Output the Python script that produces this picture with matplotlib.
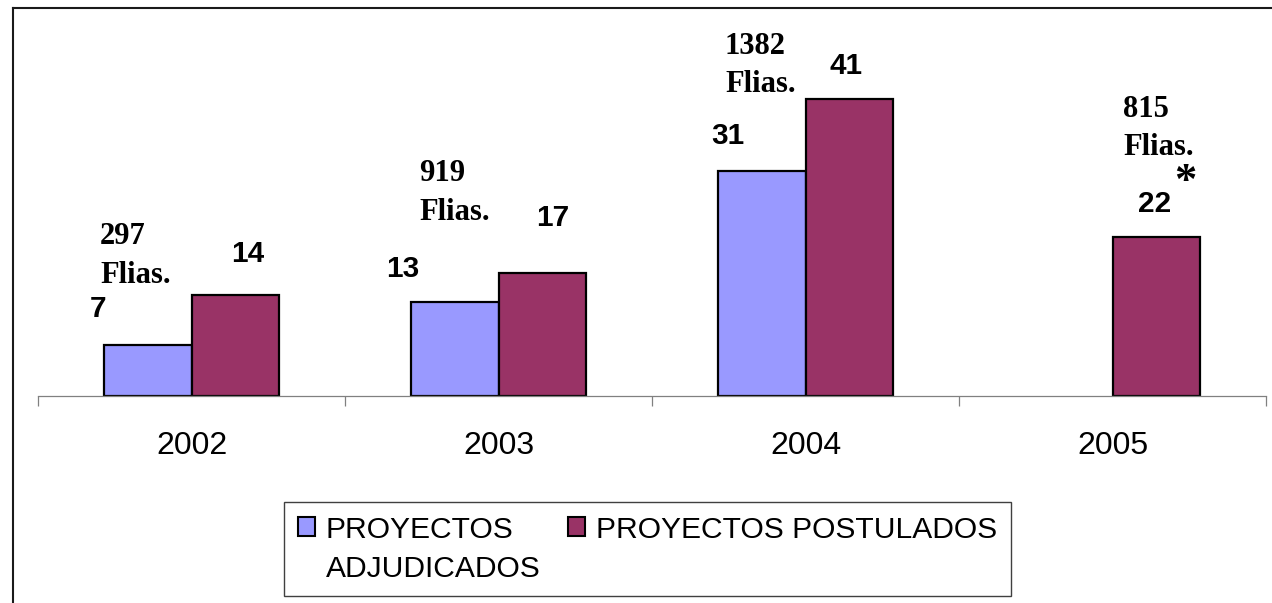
import numpy as np
import matplotlib
matplotlib.use("Agg")
import matplotlib.pyplot as plt
from matplotlib.patches import Patch
from matplotlib.lines import Line2D

# data
years = ["2002", "2003", "2004", "2005"]
adjudicados = [7, 13, 31]          # no value for 2005
postulados = [14, 17, 41, 22]
familias = [297, 919, 1382, 815]

blue = "#9999FF"
maroon = "#993366"

W, H = 1272, 603
fig = plt.figure(figsize=(W / 100, H / 100), dpi=100)

# outer frame (top and left edges visible)
fig.add_artist(Line2D([12.5 / W, 12.5 / W], [0, 1 - 8 / H], transform=fig.transFigure,
                      color="#1a1a1a", lw=1.5))
fig.add_artist(Line2D([12.5 / W, 1], [1 - 8 / H, 1 - 8 / H], transform=fig.transFigure,
                      color="#1a1a1a", lw=1.5))

ax = fig.add_axes([38 / W, (H - 396) / H, 1228 / W, 362.5 / H])
ax.set_xlim(-0.5, 3.5)
ax.set_ylim(0, 50)

bw = 0.2866
x = np.arange(len(years))
x_adj = x[:len(adjudicados)]
ax.bar(x_adj - bw / 2, adjudicados, bw, color=blue, edgecolor="black", linewidth=1.6)
ax.bar(x + bw / 2, postulados, bw, color=maroon, edgecolor="black", linewidth=1.6)

for s in ["top", "left", "right"]:
    ax.spines[s].set_visible(False)
ax.spines["bottom"].set_color("#808080")
ax.spines["bottom"].set_linewidth(0.9)
ax.set_yticks([])
ax.set_xticks(x)
ax.set_xticklabels(years, fontsize=23, family="Liberation Sans")
ax.set_xticks(np.arange(-0.5, 4.0, 1.0), minor=True)
ax.tick_params(axis="x", which="major", length=0, pad=25)
ax.tick_params(axis="x", which="minor", length=7.5, width=0.9, color="#808080", direction="out")

bold_sans = dict(fontsize=21.4, fontweight="bold", family="Liberation Sans",
                 textcoords="offset pixels", ha="center", va="baseline")
bold_serif = dict(fontsize=22, fontweight="bold", family="Liberation Serif",
                  textcoords="offset pixels", ha="left", va="baseline", linespacing=1.43)

# value labels (manual offsets, in pixels, as in the original)
adj_off = [(-50, 28), (-52, 25), (-34, 27)]
post_off = [(12.5, 32), (10, 47), (-3.5, 25), (-2, 24.5)]
for i, v in enumerate(adjudicados):
    ax.annotate(str(v), xy=(x[i] - bw / 2, v), xytext=adj_off[i], **bold_sans)
for i, v in enumerate(postulados):
    ax.annotate(str(v), xy=(x[i] + bw / 2, v), xytext=post_off[i], **bold_sans)

fam_off = [(-91.5 - 44, 11.6), (-79.5 - 44, 52.8), (-80.5 - 44, 6.7), (10.5 - 44, 81.5)]
for i, f in enumerate(familias):
    ax.annotate(f"{f}\nFlias.", xy=(x[i] + bw / 2, postulados[i]), xytext=fam_off[i], **bold_serif)

ax.annotate("*", xy=(x[3] + bw / 2, postulados[3]), xytext=(28.5, 43.5),
            textcoords="offset pixels", ha="center", va="baseline",
            fontsize=32, fontweight="bold", family="Liberation Serif")

# legend: second column-1 row carries the wrapped part of the first label
handles = [Patch(facecolor=blue, edgecolor="black", linewidth=1.5),
           Patch(facecolor="none", edgecolor="none"),
           Patch(facecolor=maroon, edgecolor="black", linewidth=1.5),
           Patch(facecolor="none", edgecolor="none")]
labels = ["PROYECTOS", "ADJUDICADOS", "PROYECTOS POSTULADOS", ""]
leg = ax.legend(handles, labels, ncol=2, loc="upper left",
                bbox_to_anchor=(284 / W, 1 - 502 / H), bbox_transform=fig.transFigure,
                borderaxespad=0, fancybox=False, frameon=True, framealpha=1,
                prop={"family": "Liberation Sans", "size": 21.6},
                handlelength=0.57, handleheight=0.6, handletextpad=0.38,
                columnspacing=0.9, labelspacing=0.38, borderpad=0.45)
leg.get_frame().set_edgecolor("#404040")
leg.get_frame().set_linewidth(1.0)

fig.savefig("out.png", dpi=100)
